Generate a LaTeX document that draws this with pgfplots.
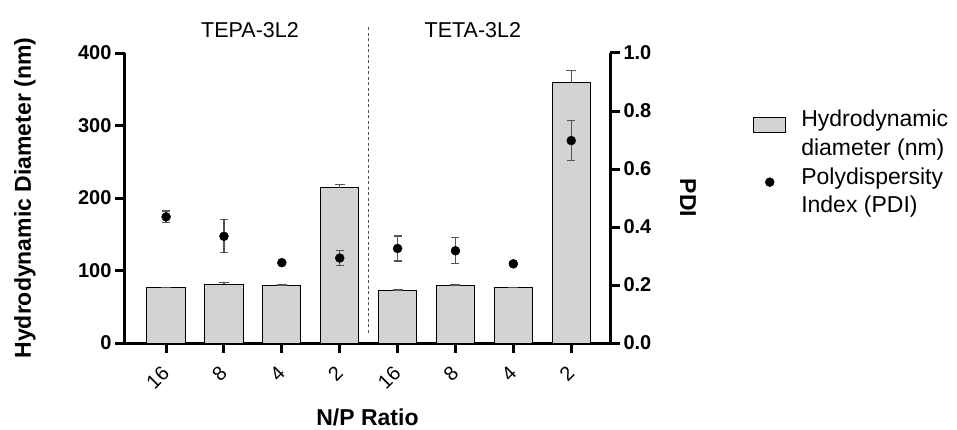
\documentclass[border=0pt]{standalone}
\usepackage{fontspec}
\setmainfont{Liberation Sans}
\usepackage{pgfplots}
\pgfplotsset{compat=1.18}

\definecolor{barfill}{HTML}{D3D3D3}
\definecolor{errgray}{HTML}{555555}

% hydrodynamic diameter (nm): position, mean, sd
\pgfplotstableread{
x  y    e
0  76   1
1  81   2
2  79   1
3  214  5
4  72   1
5  79   1
6  76   1
7  360  16
}\diamdata

% PDI: position, mean, sd
\pgfplotstableread{
x  y      e
0  0.435  0.020
1  0.368  0.057
2  0.277  0.006
3  0.293  0.025
4  0.326  0.043
5  0.318  0.045
6  0.273  0.006
7  0.698  0.070
}\pdidata

\newcommand{\tickfont}{\fontsize{20}{23}\selectfont}
\newcommand{\labfont}{\bfseries\fontsize{23}{27}\selectfont}

\pgfplotsset{
  common/.style={
    width=485pt, height=290pt, scale only axis,
    xmin=-0.71, xmax=7.67,
    clip=false,
    axis line style={line width=3pt, black},
    tick align=outside,
    major tick length=10pt,
    tick style={line width=3pt, black},
    /pgf/number format/assume math mode=true,
  },
}

\begin{document}
\begin{tikzpicture}
\begin{axis}[
  common,
  ymin=0, ymax=400,
  ytick={0,100,200,300,400},
  axis y line*=left,
  axis x line*=bottom,
  xtick={0,1,2,3,4,5,6,7},
  xticklabels={16,8,4,2,16,8,4,2},
  xticklabel style={font=\tickfont, yshift=-14pt, xshift=2pt, rotate=45, anchor=east},
  yticklabel style={font=\bfseries\tickfont},
  xlabel={N/P Ratio},
  xlabel style={font=\labfont, at={(axis description cs:0.5,0)}, anchor=base, yshift=-82pt},
  ylabel={Hydrodynamic Diameter (nm)},
  ylabel style={font=\labfont, at={(axis description cs:0,0.5)}, anchor=center, yshift=100pt},
  legend style={draw=none, fill=none, font=\fontsize{23}{27}\selectfont,
    at={(rel axis cs:1.295,0.824)}, anchor=north west, inner sep=0pt,
    row sep=17pt,
    /tikz/every odd column/.append style={column sep=13pt}},
  legend cell align=left,
]
\addplot[ybar, bar width=0.66, fill=barfill, draw=black, line width=1pt,
  legend image code/.code={\draw[fill=barfill, draw=black, line width=1pt] (0pt,-7.5pt) rectangle (32pt,7.5pt);},
  error bars/.cd, y dir=plus, y explicit,
  error bar style={errgray, line width=1.2pt},
  error mark options={errgray, rotate=90, mark size=5pt, line width=1.2pt}]
  table[x=x, y=y, y error=e] {\diamdata};
\addlegendentry{\def\arraystretch{1.07}\begin{tabular}{@{}l@{}}Hydrodynamic\\diameter (nm)\end{tabular}}
\addlegendimage{legend image code/.code={\fill[black] (16pt,0pt) circle (4.5pt);}}
\addlegendentry{\def\arraystretch{1.07}\begin{tabular}{@{}l@{}}Polydispersity\\Index (PDI)\end{tabular}}

\draw[errgray, line width=1pt, dash pattern=on 3pt off 2.5pt] (axis cs:3.5,14) -- (axis cs:3.5,436);
\node[anchor=base, font=\fontsize{21.5}{25}\selectfont] at (axis cs:1.45,422) {TEPA-3L2};
\node[anchor=base, font=\fontsize{21.5}{25}\selectfont] at (axis cs:5.3,422) {TETA-3L2};
\end{axis}

\begin{axis}[
  common,
  ymin=0, ymax=1,
  axis y line*=right,
  axis x line=none,
  ytick={0,0.2,0.4,0.6,0.8,1},
  yticklabels={0.0,0.2,0.4,0.6,0.8,1.0},
  yticklabel style={font=\bfseries\tickfont},
  ylabel={PDI},
  ylabel style={font=\labfont, at={(axis description cs:1,0.5)}, anchor=center, rotate=180, yshift=78pt},
]
\addplot[only marks, mark=*, mark size=4.5pt, black,
  error bars/.cd, y dir=both, y explicit,
  error bar style={errgray, line width=1.2pt},
  error mark options={errgray, rotate=90, mark size=4pt, line width=1.2pt}]
  table[x=x, y=y, y error=e] {\pdidata};
\end{axis}

\pgfresetboundingbox
\useasboundingbox (-125pt,-86pt) rectangle (832pt,343pt);
\end{tikzpicture}
\end{document}
